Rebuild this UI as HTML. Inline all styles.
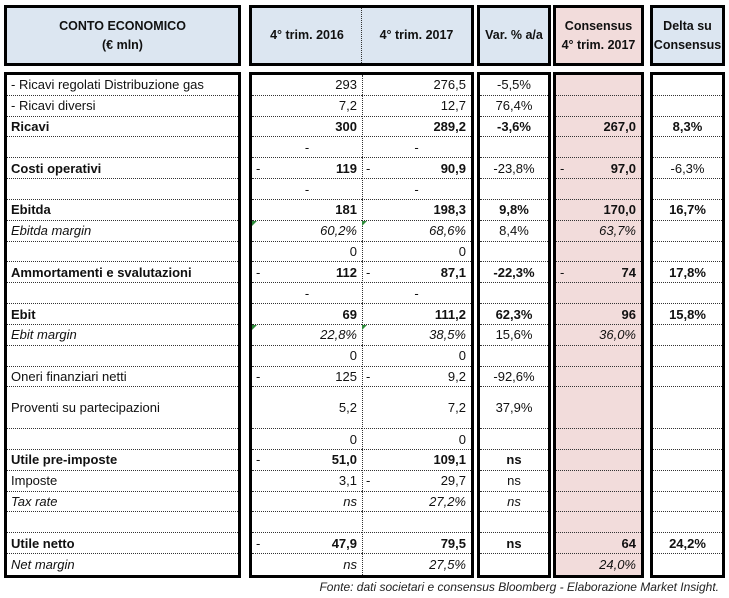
<!DOCTYPE html>
<html><head><meta charset="utf-8">
<style>
body{margin:0;width:729px;height:598px;background:#fff;position:relative;overflow:hidden;font-family:"Liberation Sans",sans-serif;font-size:13px;color:#111}
.box{position:absolute;border:3px solid #000;box-sizing:border-box;overflow:hidden}
.hdr{display:flex;align-items:center;justify-content:center;text-align:center;font-weight:bold;line-height:19px;background:#dce6f1;font-size:12.5px}
.pink{background:#f2dcdb}
.cell{position:absolute;left:0;right:0;border-bottom:1px dotted #333;box-sizing:border-box;white-space:nowrap;display:flex;align-items:center}
.cell.last{border-bottom:none}
.r{justify-content:flex-end;padding-right:5px}
.c{justify-content:center}
.l{padding-left:4px}
.b{font-weight:bold}.i{font-style:italic}
.dash{position:absolute;left:4px}
.tri{position:absolute;left:0;top:0;width:0;height:0;border-top:5px solid #2e8b3a;border-right:5px solid transparent}
.vdiv{position:absolute;top:0;bottom:0;left:109px;border-left:1px dotted #333}
.foot{position:absolute;right:10px;top:580px;font-style:italic;font-size:12px;color:#222}
</style></head><body>
<div class="box hdr" style="left:4px;top:5px;width:237px;height:61px">CONTO ECONOMICO<br>(€ mln)</div>
<div class="box hdr" style="left:249px;top:5px;width:225px;height:61px;justify-content:flex-start"><div style="width:110px">4° trim. 2016</div><div class="vdiv"></div><div style="width:109px">4° trim. 2017</div></div>
<div class="box hdr" style="left:477px;top:5px;width:74px;height:61px">Var. % a/a</div>
<div class="box hdr pink" style="left:553px;top:5px;width:91px;height:61px">Consensus<br>4° trim. 2017</div>
<div class="box hdr" style="left:650px;top:5px;width:75px;height:61px">Delta su<br>Consensus</div>

<div class="box" id="b1" style="left:4px;top:72px;width:237px;height:506px"></div>
<div class="box" id="b2" style="left:249px;top:72px;width:225px;height:506px"><div class="vdiv" style="left:110px"></div></div>
<div class="box" id="b3" style="left:477px;top:72px;width:74px;height:506px"></div>
<div class="box pink" id="b4" style="left:553px;top:72px;width:91px;height:506px"></div>
<div class="box" id="b5" style="left:650px;top:72px;width:75px;height:506px"></div>
<div class="foot">Fonte: dati societari e consensus Bloomberg - Elaborazione Market Insight.</div>
<script>
const labels=[" - Ricavi regolati Distribuzione gas"," - Ricavi diversi","Ricavi","","Costi operativi","","Ebitda","Ebitda margin","","Ammortamenti e svalutazioni","","Ebit","Ebit margin","","Oneri finanziari netti","Proventi su partecipazioni","","Utile pre-imposte","Imposte","Tax rate","","Utile netto","Net margin"];
const styles=["","","b","","b","","b","i","","b","","b","i","","","","","b","","i","","b","i"];
const v2016=["293","7,2","300","-","~119","-","181","^60,2%","0","~112","-","69","^22,8%","0","~125","5,2","0","~51,0","3,1","ns","","~47,9","ns"];
const v2017=["276,5","12,7","289,2","-","~90,9","-","198,3","^68,6%","0","~87,1","-","111,2","^38,5%","0","~9,2","7,2","0","109,1","~29,7","27,2%","","79,5","27,5%"];
const varv=["-5,5%","76,4%","-3,6%","","-23,8%","","9,8%","8,4%","","-22,3%","","62,3%","15,6%","","-92,6%","37,9%","","ns","ns","ns","","ns",""];
const varStyle=["","","b","","","","b","","","b","","b","","","","","","b","","i","","b",""];
const cons=["","","267,0","","~97,0","","170,0","63,7%","","~74","","96","36,0%","","","","","","","","","64","24,0%"];
const delta=["","","8,3%","","-6,3%","","16,7%","","","17,8%","","15,8%","","","","","","","","","","24,2%",""];
const deltaStyle=["","","b","","","","b","","","b","","b","","","","","","","","","","b",""];
const units=labels.map((l,i)=>i===15?2:1);
const inner=500, uh=inner/units.reduce((a,b)=>a+b,0);
function mk(box,text,cls,y,h,left,width){
  const d=document.createElement('div');
  d.className='cell '+cls;
  d.style.top=y+'px';d.style.height=h+'px';
  if(left!==undefined){d.style.left=left+'px';d.style.width=width+'px';d.style.right='auto';}
  let t=text;
  if(t.startsWith('^')){t=t.slice(1);const tr=document.createElement('span');tr.className='tri';d.appendChild(tr);}
  if(t.startsWith('~')){t=t.slice(1);const s=document.createElement('span');s.className='dash';s.textContent='-';s.style.fontWeight='normal';d.appendChild(s);}
  if(t==='-'&&cls.includes('r')){d.classList.remove('r');d.classList.add('c');}
  d.appendChild(document.createTextNode(t));
  box.appendChild(d);return d;
}
let yPos=0;
const b1=document.getElementById('b1'),b2=document.getElementById('b2'),b3=document.getElementById('b3'),b4=document.getElementById('b4'),b5=document.getElementById('b5');
labels.forEach((lab,i)=>{
  const h=units[i]*uh, st=styles[i];
  const last=i===labels.length-1?' last':'';
  let e;
  e=mk(b1,lab,'l '+st+last,yPos,h);
  
  
  e=mk(b2,v2016[i],'r '+st+last,yPos,h,0,110);
  
  
  e=mk(b2,v2017[i],'r '+st+last,yPos,h,110,109);
  
  
  e=mk(b3,varv[i],'c '+varStyle[i]+last,yPos,h);
  
  
  e=mk(b4,cons[i],'r '+st+last,yPos,h);
  
  
  e=mk(b5,delta[i],'c '+deltaStyle[i]+last,yPos,h);
  
  
  yPos+=h;
});
</script>
</body></html>
